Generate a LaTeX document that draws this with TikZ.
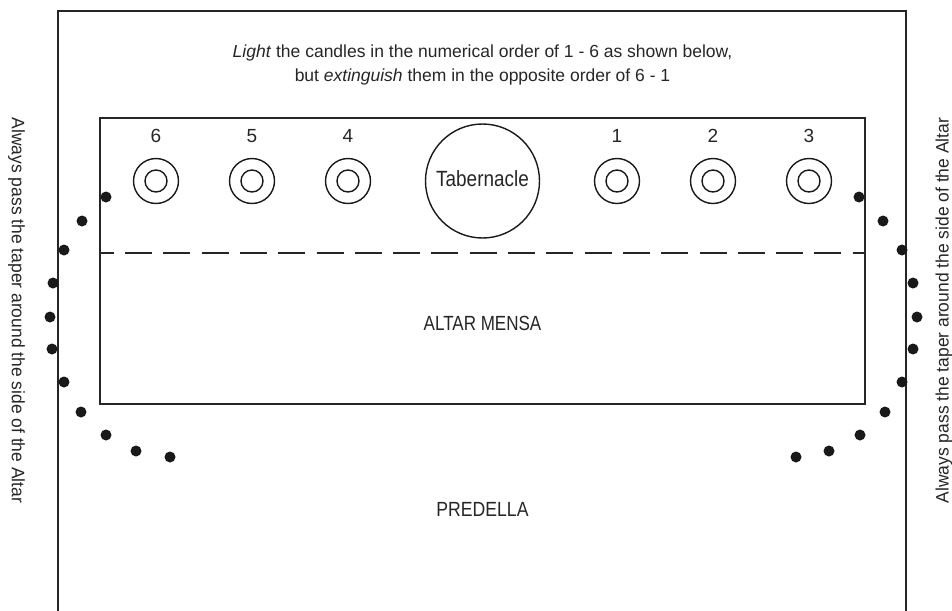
\documentclass[tikz,border=0pt]{standalone}
\usepackage{fontspec}
\usepackage{graphicx}
\setmainfont{Liberation Sans}
\begin{document}
\begin{tikzpicture}[x=1pt,y=-1pt,
  frame/.style={line width=1.6pt, color=black!85},
  candleout/.style={circle, draw=black!90, line width=1.4pt, minimum size=45pt, inner sep=0pt},
  candlein/.style={circle, draw=black!90, line width=1.4pt, minimum size=22pt, inner sep=0pt},
  tabern/.style={circle, draw=black!90, line width=1.4pt, minimum size=114pt, inner sep=0pt},
  dot/.style={circle, fill=black!90, inner sep=0pt, minimum size=11pt},
  num/.style={anchor=base, inner sep=0pt, font=\fontsize{19}{22}\selectfont, text=black!85},
  toptext/.style={anchor=base, inner sep=0pt, font=\fontsize{17.5}{22}\selectfont, text=black!85},
  lbl/.style={anchor=base, inner sep=0pt, font=\fontsize{20.5}{24}\selectfont, text=black!85},
  side/.style={inner sep=0pt, font=\fontsize{18}{22}\selectfont, text=black!85}
]
\useasboundingbox (0,0) rectangle (952,610);

% outer frame (open at bottom)
\coordinate (obl) at (58,612);
\coordinate (otl) at (58,11);
\coordinate (otr) at (906,11);
\coordinate (obr) at (906,612);
\draw[frame] (obl) -- (otl) -- (otr) -- (obr);

% altar
\coordinate (atl) at (100,118);
\coordinate (abr) at (865,404);
\draw[frame] (atl) rectangle (abr);
\coordinate (dl) at (100,252.7);
\coordinate (dr) at (865,252.7);
\draw[frame, line width=2.3pt, dash pattern=on 27pt off 11.3pt, dash phase=13.3pt] (dl) -- (dr);

% top text
\node[toptext] (t1) at (482.5,57.7) {\textit{Light} the candles in the numerical order of 1 - 6 as shown below,};
\node[toptext] (t2) at (482.5,81.7) {but \textit{extinguish} them in the opposite order of 6 - 1};

% candles
\foreach \n/\x in {6/156,5/252,4/348,1/617,2/713,3/809}{
  \node[candleout] (co\n) at (\x,181) {};
  \node[candlein] (ci\n) at (co\n) {};
  \node[num] (n\n) at (\x,142.3) {\n};
}

% tabernacle
\node[tabern] (tab) at (482.5,181) {};
\node[lbl, font=\fontsize{22}{26}\selectfont] (tabt) at (482.5,186) {\scalebox{0.86}[1]{Tabernacle}};

% labels
\node[lbl] (mensa) at (482.5,330.7) {\scalebox{0.83}[1]{ALTAR MENSA}};
\node[lbl] (pred) at (482.5,516.7) {\scalebox{0.86}[1]{PREDELLA}};

% side texts
\node[side, rotate=-90] (sl) at (16.5,310.5) {\scalebox{0.97}[1]{Always pass the taper around the side of the Altar}};
\node[side, rotate=90] (sr) at (944,310.5) {\scalebox{0.97}[1]{Always pass the taper around the side of the Altar}};

% dots left
\foreach \i/\x/\y in {1/106/197,2/82/221,3/64/250,4/53/283,5/50/317,6/52/349,7/64/382,8/81/412,9/106/435,10/136/451,11/170/457}{
  \node[dot] (l\i) at (\x,\y) {};
}
% dots right
\foreach \i/\x/\y in {1/859/197,2/883/221,3/902/250,4/913/283,5/917/317,6/913/349,7/902/382,8/885/412,9/860/435,10/829/451,11/796/457}{
  \node[dot] (r\i) at (\x,\y) {};
}
\end{tikzpicture}
\end{document}
